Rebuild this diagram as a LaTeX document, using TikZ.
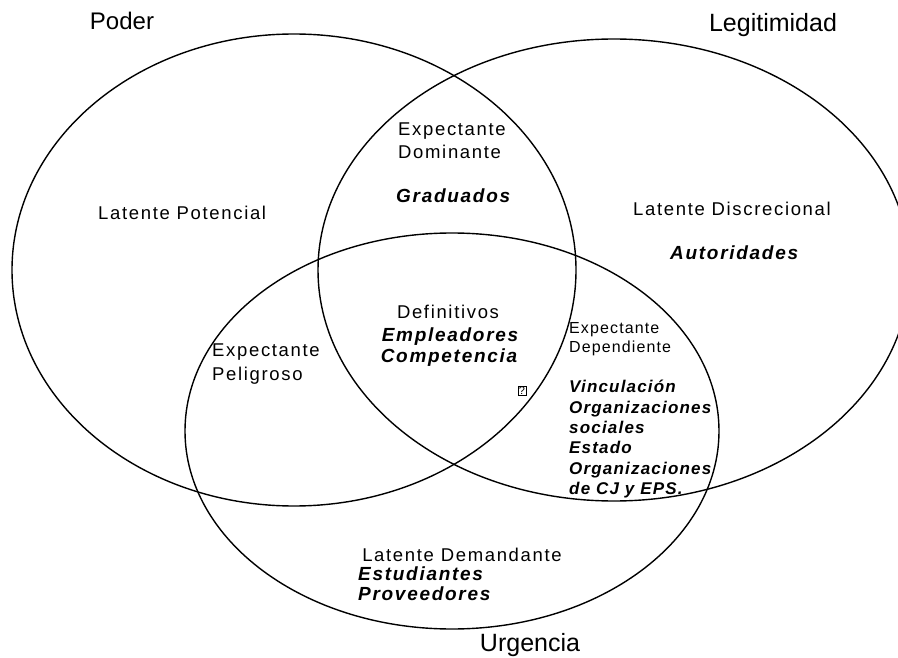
\documentclass[tikz,border=0pt]{standalone}
\usepackage{fontspec}
\setmainfont{Liberation Sans}
\newfontfamily\lblfont[LetterSpace=9]{Liberation Sans}
\newfontfamily\lblbfont[LetterSpace=9,BoldItalicFont={Liberation Sans Bold Italic}]{Liberation Sans}
\newfontfamily\lblsfont[LetterSpace=7,BoldItalicFont={Liberation Sans Bold Italic}]{Liberation Sans}
\tikzset{
  venn/.style={draw=black,line width=1.4pt},
  title/.style={font=\fontsize{24}{28}\selectfont,anchor=base,inner sep=0pt},
  reg/.style={font=\lblfont\fontsize{18.5}{20}\selectfont,anchor=base west,inner sep=0pt},
  regc/.style={font=\lblfont\fontsize{18.5}{20}\selectfont,anchor=base,inner sep=0pt},
  small/.style={font=\lblsfont\fontsize{16}{18}\selectfont,anchor=base west,inner sep=0pt},
  bi/.style={font=\lblbfont\bfseries\itshape\fontsize{19}{20}\selectfont,anchor=base west,inner sep=0pt},
  bic/.style={font=\lblbfont\bfseries\itshape\fontsize{19}{20}\selectfont,anchor=base,inner sep=0pt},
  bismall/.style={font=\lblsfont\bfseries\itshape\fontsize{17}{18}\selectfont,anchor=base west,inner sep=0pt},
}
\begin{document}
\begin{tikzpicture}[x=1pt,y=-1pt]
\useasboundingbox (0,0) rectangle (898,658);
\fill[white] (0,0) rectangle (898,658);
% circles
\draw[venn] (294,270) ellipse [x radius=282, y radius=236];
\draw[venn] (614,270) ellipse [x radius=296, y radius=231];
\draw[venn] (452,431) ellipse [x radius=267, y radius=198];
% titles
\node[title] (poder) at (122,30) {Poder};
\node[title,font=\fontsize{25}{28}\selectfont] (legit) at (773,32) {Legitimidad};
\node[title,font=\fontsize{25}{28}\selectfont] (urg) at (530,651) {Urgencia};
% Poder only
\node[reg] (latpot) at (98,220) {Latente Potencial};
% Poder & Legitimidad
\node[reg] (expdom1) at (398,136) {Expectante};
\node[reg] (expdom2) at (398,159) {Dominante};
\node[bi] (grad) at (396,203) {Graduados};
% Legitimidad only
\node[reg] (latdis) at (633,216) {Latente Discrecional};
\node[bi] (auto) at (670,260) {Autoridades};
% all three
\node[regc] (def) at (448,318) {Definitivos};
\node[bic] (empl) at (450,341) {Empleadores};
\node[bic] (comp) at (449,362) {Competencia};
% Legitimidad & Urgencia
\node[small] (expdep1) at (569,334) {Expectante};
\node[small] (expdep2) at (569,352) {Dependiente};
\node[bismall] (v1) at (569,392) {Vinculación};
\node[bismall] (v2) at (569,413) {Organizaciones};
\node[bismall] (v3) at (569,433) {sociales};
\node[bismall] (v4) at (569,453) {Estado};
\node[bismall] (v5) at (569,474) {Organizaciones};
\node[bismall] (v6) at (569,494) {de CJ y EPS.};
% Poder & Urgencia
\node[reg] (exppel1) at (212,356) {Expectante};
\node[reg] (exppel2) at (212,380) {Peligroso};
% missing glyph box
\node[draw,line width=0.6pt,inner sep=0.9pt,font=\fontsize{11}{12}\selectfont] (q) at (522,391) {?};
% Urgencia only
\node[regc] (latdem) at (462,561) {Latente Demandante};
\node[bi] (est) at (358,580) {Estudiantes};
\node[bi] (prov) at (358,600) {Proveedores};
\end{tikzpicture}
\end{document}
